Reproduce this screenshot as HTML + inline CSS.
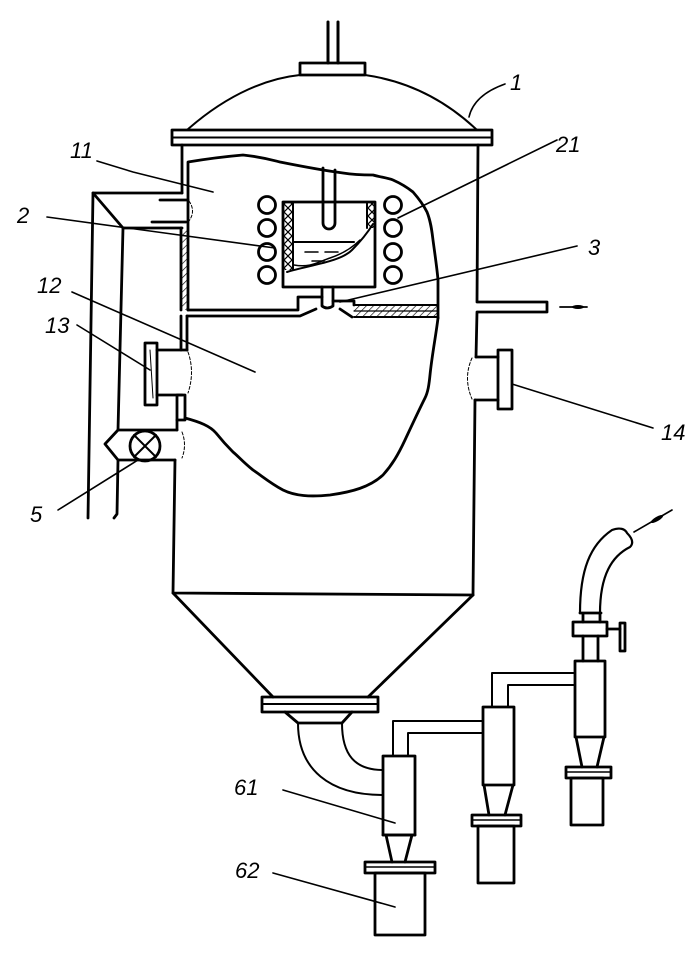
<!DOCTYPE html>
<html><head><meta charset="utf-8"><style>
html,body{margin:0;padding:0;background:#fff;}
svg{display:block;}
text{font-family:"Liberation Sans",sans-serif;font-style:italic;font-size:22px;fill:#000;}
</style></head><body>
<svg width="700" height="956" viewBox="0 0 700 956" xmlns="http://www.w3.org/2000/svg">
<defs>
<pattern id="hatch" width="5" height="5" patternUnits="userSpaceOnUse" patternTransform="rotate(45)"><line x1="0" y1="0" x2="0" y2="5" stroke="#000" stroke-width="1.3"/></pattern>
<pattern id="xh" width="8" height="8" patternUnits="userSpaceOnUse"><path d="M0,0 L8,8 M8,0 L0,8" stroke="#000" stroke-width="1.2"/></pattern>
</defs>
<rect x="0" y="0" width="700" height="956" fill="#fff"/>
<g fill="none" stroke="#000" stroke-width="2.8" stroke-linejoin="round" stroke-linecap="round">
<!-- top pipe & cap -->
<line x1="328" y1="22" x2="328" y2="63" stroke-width="3"/>
<line x1="338" y1="22" x2="338" y2="63" stroke-width="3"/>
<rect x="300" y="63" width="65" height="12"/>
<path d="M187,130 C230,92 270,78 300,75 M365,75 C400,80 440,95 477,130" stroke-width="2"/>
<!-- flange -->
<rect x="172" y="130" width="320" height="15"/>
<line x1="172" y1="137.5" x2="492" y2="137.5" stroke-width="2"/>
<!-- upper left wall -->
<line x1="182" y1="145" x2="182" y2="193"/>
<!-- right wall -->
<path d="M478,145 L477,302 M477,312 L476,357 M475,400 L473,595"/>
<!-- outlet pipe -->
<path d="M478,302 L547,302 L547,312 L478,312"/>
<line x1="560" y1="307" x2="587" y2="307" stroke-width="1.8"/>
<ellipse cx="578" cy="307" rx="6" ry="2" fill="#000" stroke="none"/>
<!-- port 14 -->
<path d="M476,357 L498,357 M475,400 L498,400"/>
<rect x="498" y="350" width="14" height="59"/>
<path d="M472,358 Q463,378 472,399" stroke-width="1" stroke-dasharray="3,2"/>
<!-- duct -->
<path d="M182,193 L93,193 L88,518"/>
<path d="M93,193 L123,228 L182,228"/>
<path d="M123,228 L118,430"/>
<path d="M118,460 L117,514 L114,518"/>
<!-- pipe 11 stubs -->
<path d="M160,200 L188,200 M152,222 L186,222"/>
<path d="M189,201 Q196,211 189,221" stroke-width="1" stroke-dasharray="3,2"/>
<!-- wall with hatch 228-312 -->
<rect x="181" y="228" width="7" height="82" fill="url(#hatch)" stroke="none"/>
<line x1="181" y1="228" x2="181" y2="310"/>
<!-- chamber 11 boundary -->
<path d="M188,310 L188,162 C200,160 220,157 243,155 C262,157 272,160 280,162 C300,166 320,170 343,173 C355,175 365,175 373,175 C380,177 388,178 393,180 C402,184 408,188 413,192 C420,200 424,206 427,212 C431,222 432,232 433,240 C435,255 437,268 438,280 L438,318"/>
<!-- stirrer -->
<path d="M323,168 L323,223 A6,6 0 0 0 335,223 L335,170"/>
<!-- coils -->
<circle cx="267" cy="205" r="8.5"/><circle cx="267" cy="228" r="8.5"/><circle cx="267" cy="252" r="8.5"/><circle cx="267" cy="275" r="8.5"/>
<circle cx="393" cy="205" r="8.5"/><circle cx="393" cy="228" r="8.5"/><circle cx="393" cy="252" r="8.5"/><circle cx="393" cy="275" r="8.5"/>
<!-- crucible -->
<rect x="283" y="202" width="10" height="68" fill="url(#xh)" stroke="none"/>
<rect x="367" y="202" width="8" height="26" fill="url(#xh)" stroke="none"/>
<rect x="283" y="202" width="92" height="85"/>
<line x1="293" y1="202" x2="293" y2="270" stroke-width="2"/>
<line x1="367" y1="202" x2="367" y2="228" stroke-width="2"/>
<path d="M287,272 C310,265 340,262 352,250 C362,240 368,232 373,224" stroke-width="2"/>
<line x1="293" y1="242" x2="354" y2="242" stroke-width="2"/>
<path d="M294,265 C310,268 318,262 330,258 C342,254 352,248 360,240" stroke-width="1.5"/>
<path d="M305,252 L318,252 M325,252 L338,252 M312,261 L324,261" stroke-width="1.5"/>
<!-- nozzle -->
<path d="M322,287 L322,306 Q327,310 333,306 L333,287"/>
<path d="M188,310 L298,310 L298,297 L322,297 M333,301 L354,301 L354,305"/>
<rect x="354" y="305" width="84" height="12" fill="url(#hatch)" stroke="none"/>
<path d="M354,305 L438,305 M354,317 L438,317" stroke-width="2"/>
<line x1="354" y1="311" x2="438" y2="311" stroke-width="1.2"/>
<path d="M187,316 L300,316 L316,309 M340,309 L352,317"/>
<!-- chamber 12 boundary -->
<path d="M438,318 C436,335 432,355 430,375 C429,385 428,392 425,398 C418,412 412,425 405,440 C398,455 392,465 383,475 C370,487 352,492 330,495 C310,497 295,496 283,490 C270,483 262,476 253,470 C243,462 238,456 233,452 C225,444 220,438 216,433 C210,426 200,422 185,418"/>
<!-- left wall lower chamber -->
<path d="M181,316 L181,350 M187,316 L187,350"/>
<!-- port 13 -->
<path d="M157,350 L187,350 M157,395 L182,395"/>
<rect x="145" y="343" width="12" height="62"/>
<line x1="150" y1="350" x2="153" y2="398" stroke-width="1"/>
<path d="M188,352 Q195,372 188,393" stroke-width="1" stroke-dasharray="3,2"/>
<rect x="177" y="395" width="8" height="25"/>
<line x1="177" y1="420" x2="177" y2="430"/>
<!-- valve 5 -->
<path d="M177,430 L118,430 L105,444 L118,460 L175,460"/>
<circle cx="145" cy="446" r="15"/>
<path d="M134,435 L156,457 M156,435 L134,457" stroke-width="2"/>
<path d="M182,432 Q187,445 182,458" stroke-width="1" stroke-dasharray="3,2"/>
<!-- lower vessel -->
<path d="M175,460 L173,593 L473,595"/>
<path d="M173,593 L273,697 M473,595 L368,697"/>
<rect x="262" y="697" width="116" height="15"/>
<line x1="262" y1="704" x2="378" y2="704" stroke-width="2"/>
<path d="M285,712 L298,723 L342,723 L352,712"/>
<!-- elbow -->
<path d="M298,723 C298,770 330,795 383,795" stroke-width="2"/>
<path d="M342,723 C342,755 355,770 383,770" stroke-width="2"/>
<!-- cyclone 61 -->
<rect x="383" y="756" width="32" height="79"/>
<path d="M383,835 L415,835 M386,835 L392,862 M412,835 L405,862"/>
<rect x="365" y="862" width="70" height="11"/>
<line x1="365" y1="867" x2="435" y2="867" stroke-width="1.5"/>
<rect x="375" y="873" width="50" height="62"/>
<path d="M393,756 L393,721 L483,721 M408,756 L408,733 L483,733" stroke-width="2"/>
<!-- cyclone 2 -->
<rect x="483" y="707" width="31" height="78"/>
<path d="M484,785 L489,815 M513,785 L505,815"/>
<rect x="472" y="815" width="49" height="11"/>
<line x1="472" y1="820" x2="521" y2="820" stroke-width="1.5"/>
<rect x="478" y="826" width="36" height="57"/>
<path d="M492,707 L492,673 L575,673 M508,707 L508,685 L575,685" stroke-width="2"/>
<!-- cyclone 3 -->
<rect x="575" y="661" width="30" height="76"/>
<path d="M576,737 L582,767 M604,737 L597,767"/>
<rect x="566" y="767" width="45" height="11"/>
<line x1="566" y1="772" x2="611" y2="772" stroke-width="1.5"/>
<rect x="571" y="778" width="32" height="47"/>
<path d="M583,636 L583,661 M598,636 L598,661"/>
<rect x="573" y="622" width="34" height="14"/>
<path d="M607,629 L620,629"/>
<rect x="620" y="623" width="5" height="28"/>
<path d="M583,613 L583,622 M600,613 L600,622 M580,613 L601,613"/>
<!-- hose -->
<path d="M580,613 C580,570 590,545 612,530 C620,527 625,529 627,533 C632,538 634,543 630,547 C612,556 600,575 600,613" stroke-width="2.2"/>
<!-- inlet arrow -->
<line x1="634" y1="532" x2="672" y2="510" stroke-width="1.6"/>
<ellipse cx="657" cy="519" rx="7" ry="2.2" transform="rotate(-30 657 519)" fill="#000" stroke="none"/>
</g>
<!-- leaders -->
<g fill="none" stroke="#000" stroke-width="1.6" stroke-linecap="round">
<path d="M469,117 Q474,95 505,84"/>
<path d="M97,161 L133,172 L213,192"/>
<path d="M47,217 L275,248"/>
<path d="M557,140 L398,218"/>
<path d="M577,246 L340,302"/>
<path d="M72,292 L255,372"/>
<path d="M77,325 L150,370"/>
<path d="M653,428 L512,384"/>
<path d="M58,510 L138,460"/>
<path d="M283,790 L395,823"/>
<path d="M273,873 L395,907"/>
</g>
<!-- labels -->
<text x="510" y="90">1</text>
<text x="70" y="158">11</text>
<text x="17" y="223">2</text>
<text x="37" y="293">12</text>
<text x="45" y="333">13</text>
<text x="30" y="522">5</text>
<text x="556" y="152">21</text>
<text x="588" y="255">3</text>
<text x="661" y="440">14</text>
<text x="234" y="795">61</text>
<text x="235" y="878">62</text>
</svg>
</body></html>
